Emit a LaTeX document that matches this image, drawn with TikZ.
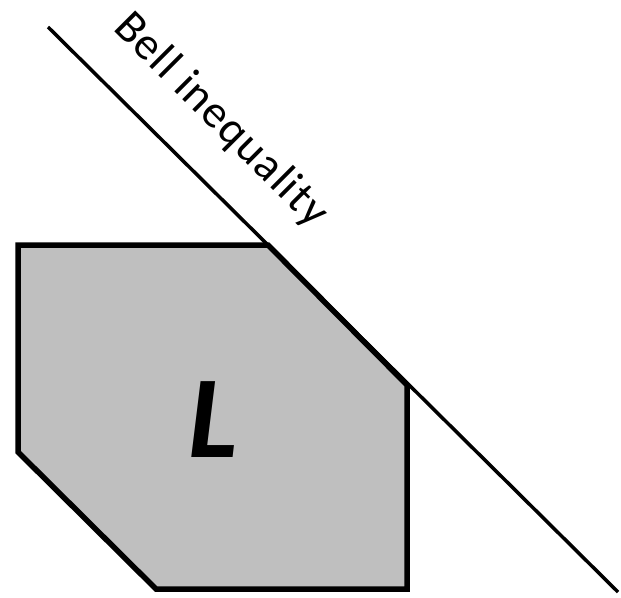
\documentclass[tikz,border=0pt]{standalone}
\usepackage{fontspec}
\setmainfont{Carlito}
\newfontfamily\bellfont[LetterSpace=3]{Carlito}
\usetikzlibrary{positioning}
\definecolor{polygray}{RGB}{191,191,191}

\begin{document}
\begin{tikzpicture}[x=1pt,y=-1pt]
  \useasboundingbox (0,0) rectangle (621,597);
  % polytope L
  \filldraw[fill=polygray, line width=5.5pt, line join=miter]
    (18,245) -- (268,245) -- (407,385) -- (407,589) -- (156,589) -- (18,452) -- cycle;
  \node[font=\fontsize{117}{120}\selectfont\bfseries\itshape] (lbl) at (213,420) {L};

  % Bell inequality
  \coordinate (bstart) at (48,27);
  \coordinate (bend) at (618,592);
  \draw[line width=3.5pt] (bstart) -- (bend);
  \node[font=\bellfont\fontsize{46}{52}\selectfont, rotate=-45, anchor=base west, inner sep=0pt] (bell) at (112,29) {Bell inequality};
\end{tikzpicture}
\end{document}
